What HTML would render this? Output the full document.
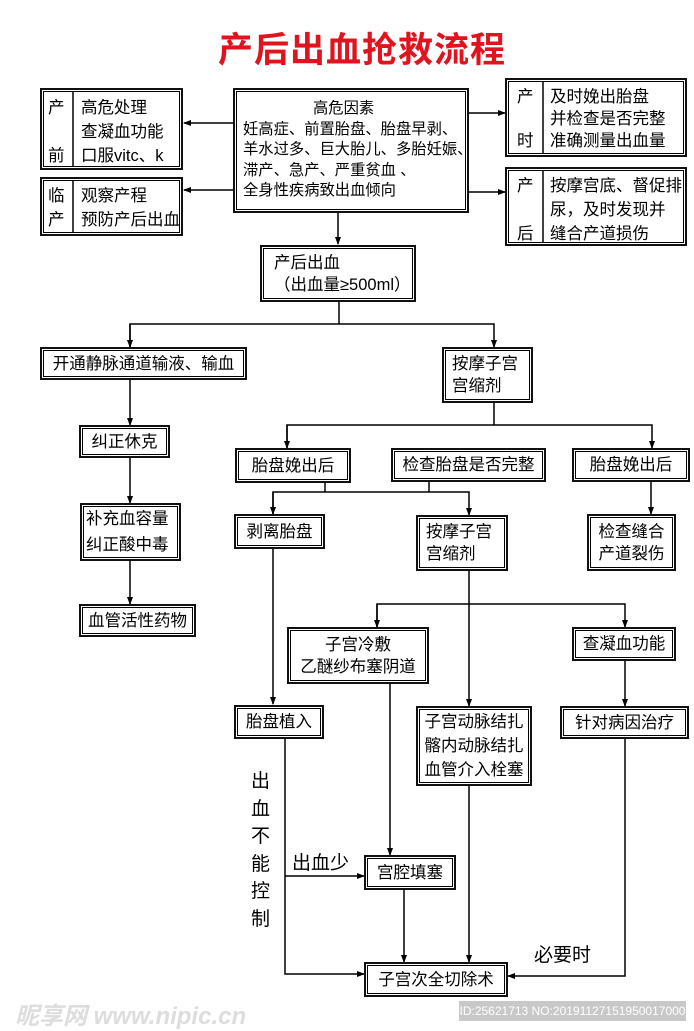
<!DOCTYPE html>
<html><head><meta charset="utf-8"><style>
body{margin:0;width:694px;height:1024px;background:#fff;position:relative;overflow:hidden;font-family:"Liberation Sans","Noto Sans CJK SC",sans-serif;color:#000}
.b{position:absolute;box-sizing:border-box;border:2px solid #111;box-shadow:inset 0 0 0 1px #fff,inset 0 0 0 2px #000;font-size:16.5px;line-height:22px;display:flex;flex-direction:column;justify-content:center;align-items:center;text-align:center;white-space:nowrap}
.l{align-items:flex-start;text-align:left;padding-left:8px}
.t{position:absolute;white-space:nowrap}
svg{position:absolute;left:0;top:0}
</style></head><body>
<div class="t" style="left:218px;top:22px;font-size:35px;font-weight:bold;color:#e0141e;letter-spacing:1px">产后出血抢救流程</div>

<svg width="694" height="1024">
<defs><marker id="a" markerWidth="8" markerHeight="8" refX="7" refY="4" orient="auto" markerUnits="userSpaceOnUse"><path d="M0,1 L8,4 L0,7 Z" fill="#000"/></marker></defs>
<g stroke="#000" stroke-width="1.5" fill="none">
<line x1="233" y1="123" x2="184" y2="123" marker-end="url(#a)"/>
<line x1="233" y1="190" x2="184" y2="190" marker-end="url(#a)"/>
<line x1="469" y1="113" x2="505" y2="113" marker-end="url(#a)"/>
<line x1="469" y1="192" x2="505" y2="192" marker-end="url(#a)"/>
<line x1="338" y1="213" x2="338" y2="244" marker-end="url(#a)"/>
<polyline points="339,302 339,324"/>
<polyline points="130,347 130,324 494,324 494,347" marker-end="url(#a)"/>
<line x1="130" y1="324" x2="130" y2="347" marker-end="url(#a)"/>
<line x1="130" y1="380" x2="130" y2="425" marker-end="url(#a)"/>
<line x1="130" y1="458" x2="130" y2="503" marker-end="url(#a)"/>
<line x1="130" y1="561" x2="130" y2="604" marker-end="url(#a)"/>
<polyline points="494,403 494,425"/>
<polyline points="287,448 287,425 652,425 652,448" marker-end="url(#a)"/>
<line x1="287" y1="425" x2="287" y2="448" marker-end="url(#a)"/>
<polyline points="325,483 325,492"/>
<polyline points="429,482 429,492"/>
<polyline points="273,515 273,492 469,492 469,515" marker-end="url(#a)"/>
<line x1="273" y1="492" x2="273" y2="514" marker-end="url(#a)"/>
<line x1="651" y1="482" x2="651" y2="514" marker-end="url(#a)"/>
<line x1="273" y1="549" x2="273" y2="704" marker-end="url(#a)"/>
<line x1="469" y1="571" x2="469" y2="706" marker-end="url(#a)"/>
<polyline points="377,627 377,604 625,604 625,627" marker-end="url(#a)"/>
<line x1="377" y1="604" x2="377" y2="627" marker-end="url(#a)"/>
<line x1="625" y1="661" x2="625" y2="706" marker-end="url(#a)"/>
<line x1="390" y1="684" x2="390" y2="855" marker-end="url(#a)"/>
<polyline points="285,739 285,974 364,974" marker-end="url(#a)"/>
<line x1="285" y1="876" x2="364" y2="876" marker-end="url(#a)"/>
<line x1="404" y1="890" x2="404" y2="962" marker-end="url(#a)"/>
<line x1="469" y1="786" x2="469" y2="962" marker-end="url(#a)"/>
<polyline points="625,739 625,976 508,976" marker-end="url(#a)"/>
<line x1="73" y1="90" x2="73" y2="170"/>
<line x1="73" y1="179" x2="73" y2="235"/>
<line x1="543" y1="80" x2="543" y2="156"/>
<line x1="543" y1="169" x2="543" y2="245"/>
</g></svg>

<div class="b" style="left:40px;top:88px;width:143px;height:82px"></div>
<div class="t" style="left:48px;top:96px;font-size:16.5px;line-height:24px">产<br><br>前</div>
<div class="t" style="left:81px;top:96px;font-size:16.5px;line-height:24px">高危处理<br>查凝血功能<br>口服vitc、k</div>
<div class="b" style="left:40px;top:177px;width:143px;height:59px"></div>
<div class="t" style="left:48px;top:184px;font-size:16.5px;line-height:24px">临<br>产</div>
<div class="t" style="left:81px;top:184px;font-size:16.5px;line-height:24px">观察产程<br>预防产后出血</div>

<div class="b l" style="left:233px;top:88px;width:236px;height:125px;font-size:15.3px;line-height:20.5px"><span style="margin-left:70px">高危因素</span>妊高症、前置胎盘、胎盘早剥、<br>羊水过多、巨大胎儿、多胎妊娠、<br>滞产、急产、严重贫血 、<br>全身性疾病致出血倾向</div>

<div class="b" style="left:505px;top:78px;width:182px;height:79px"></div>
<div class="t" style="left:517px;top:86px;font-size:16.5px;line-height:22px">产<br><br>时</div>
<div class="t" style="left:550px;top:86px;font-size:16.5px;line-height:22px">及时娩出胎盘<br>并检查是否完整<br>准确测量出血量</div>
<div class="b" style="left:505px;top:167px;width:182px;height:79px"></div>
<div class="t" style="left:517px;top:174px;font-size:16.5px;line-height:24px">产<br><br>后</div>
<div class="t" style="left:550px;top:174px;font-size:16.5px;line-height:24px">按摩宫底、督促排<br>尿，及时发现并<br>缝合产道损伤</div>

<div class="b l" style="left:260px;top:245px;width:156px;height:57px;padding-left:12px">产后出血<span>（出血量≥500ml）</span></div>

<div class="b" style="left:40px;top:347px;width:207px;height:33px">开通静脉通道输液、输血</div>
<div class="b l" style="left:442px;top:347px;width:91px;height:56px">按摩子宫<br>宫缩剂</div>
<div class="b" style="left:79px;top:425px;width:91px;height:33px">纠正休克</div>
<div class="b l" style="left:80px;top:503px;width:101px;height:58px;padding-left:4px;line-height:26px">补充血容量<br>纠正酸中毒</div>
<div class="b" style="left:79px;top:604px;width:117px;height:33px">血管活性药物</div>

<div class="b" style="left:235px;top:448px;width:116px;height:35px">胎盘娩出后</div>
<div class="b" style="left:391px;top:448px;width:155px;height:34px">检查胎盘是否完整</div>
<div class="b" style="left:572px;top:448px;width:118px;height:34px">胎盘娩出后</div>
<div class="b" style="left:234px;top:514px;width:91px;height:35px">剥离胎盘</div>
<div class="b l" style="left:416px;top:515px;width:92px;height:56px">按摩子宫<br>宫缩剂</div>
<div class="b" style="left:587px;top:514px;width:89px;height:57px">检查缝合<br>产道裂伤</div>

<div class="b" style="left:287px;top:627px;width:142px;height:57px">子宫冷敷<br>乙醚纱布塞阴道</div>
<div class="b" style="left:572px;top:627px;width:104px;height:34px">查凝血功能</div>
<div class="b" style="left:234px;top:705px;width:90px;height:34px">胎盘植入</div>
<div class="b" style="left:416px;top:706px;width:116px;height:80px;line-height:24px">子宫动脉结扎<br>髂内动脉结扎<br>血管介入栓塞</div>
<div class="b" style="left:560px;top:706px;width:129px;height:33px">针对病因治疗</div>
<div class="b" style="left:364px;top:855px;width:92px;height:35px">宫腔填塞</div>
<div class="b" style="left:364px;top:962px;width:144px;height:35px">子宫次全切除术</div>

<div class="t" style="left:251px;top:768px;font-size:19px;line-height:27.5px">出<br>血<br>不<br>能<br>控<br>制</div>
<div class="t" style="left:292px;top:848px;font-size:19px">出血少</div>
<div class="t" style="left:534px;top:940px;font-size:19px">必要时</div>

<div class="t" style="left:15px;top:996px;font-size:24px;font-weight:bold;font-style:italic;color:#ddd">昵享网 www.nipic.cn</div>
<div style="position:absolute;left:459px;top:1001px;width:227px;height:20px;background:#c8c8c8;color:#fff;font-size:12px;line-height:20px;text-align:center">ID:25621713 NO:20191127151950017000</div>
</body></html>
